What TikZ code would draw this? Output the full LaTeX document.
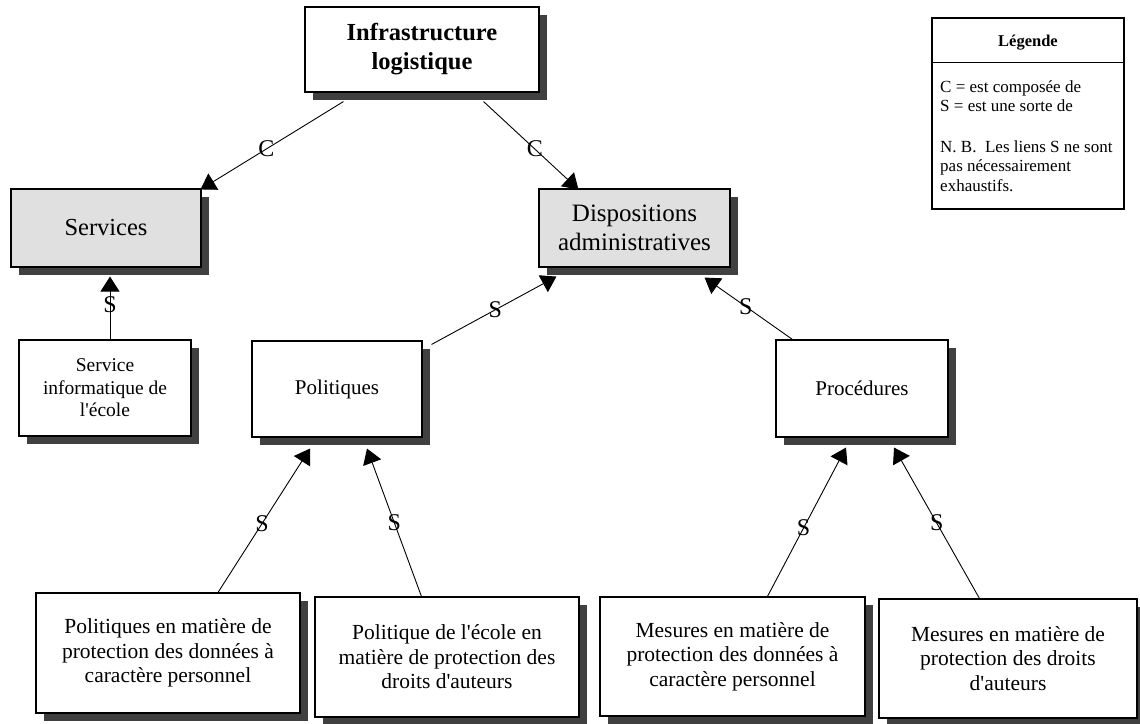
\documentclass[tikz,border=0pt]{standalone}
\usepackage{fontspec}
\setmainfont{Liberation Serif}[Ligatures=TeXOff]
\usetikzlibrary{arrows.meta,shadows,calc}
\definecolor{shadowgray}{HTML}{404040}
\definecolor{boxgray}{HTML}{E0E0E0}

\begin{document}
\begin{tikzpicture}[x=1pt,y=-1pt,
    box/.style={draw,fill=white,line width=1.1pt,align=center,inner sep=0pt,
      drop shadow={shadow xshift=8pt,shadow yshift=-8pt,fill=shadowgray,opacity=1}},
    greybox/.style={box,fill=boxgray},
    lien/.style={line width=0.9pt,-{Triangle[length=15pt,width=19pt]}},
    lbl/.style={inner sep=0pt,font=\fontsize{24}{24}\selectfont}]
  \useasboundingbox (0,0) rectangle (1140,723);

  % niveau 1
  \node[box,minimum width=234pt,minimum height=85pt,font=\bfseries\fontsize{24.5}{29}\selectfont] (infra) at (422,49.5) {Infrastructure\\logistique};

  % niveau 2
  \node[greybox,minimum width=190pt,minimum height=78pt,font=\fontsize{24.5}{28}\selectfont] (serv) at (106,228) {Services};
  \node[greybox,minimum width=191pt,minimum height=78pt,font=\fontsize{25}{28.5}\selectfont] (disp) at (634.5,228) {Dispositions\\administratives};

  % niveau 3
  \node[box,minimum width=172pt,minimum height=96pt,font=\fontsize{19.5}{22.5}\selectfont] (svinfo) at (105,388) {Service\\informatique de\\l'école};
  \node[box,minimum width=170pt,minimum height=96pt,font=\fontsize{21}{24}\selectfont] (pol) at (337,389) {Politiques};
  \node[box,minimum width=172pt,minimum height=97pt,font=\fontsize{21}{24}\selectfont] (proc) at (862,388.5) {Procédures};

  % niveau 4
  \node[box,minimum width=264pt,minimum height=120pt,font=\fontsize{21.5}{24.5}\selectfont] (polperso) at (168,653) {Politiques en matière de\\protection des données à\\caractère personnel};
  \node[box,minimum width=264pt,minimum height=120pt,font=\fontsize{21.5}{24.5}\selectfont] (polauteur) at (447,657) {Politique de l'école en\\matière de protection des\\droits d'auteurs};
  \node[box,minimum width=265pt,minimum height=119pt,font=\fontsize{21.5}{24.5}\selectfont] (mesperso) at (732.5,656.5) {Mesures en matière de\\protection des données à\\caractère personnel};
  \node[box,minimum width=258pt,minimum height=119pt,font=\fontsize{21.5}{24.5}\selectfont] (mesauteur) at (1008,658.5) {Mesures en matière de\\protection des droits\\d'auteurs};

  % legende
  \node[draw,line width=1.1pt,minimum width=192pt,minimum height=191pt] (leg) at (1028,113.5) {};
  \draw[line width=1.1pt] ($(leg.north west)+(0,45)$) -- ($(leg.north east)+(0,45)$);
  \node[font=\bfseries\fontsize{16.5}{18}\selectfont] (legtitle) at (1028,43) {Légende};
  \node[anchor=north west,align=left,inner sep=0pt,font=\fontsize{17}{19.5}\selectfont] (legtext) at (940,80) {C = est composée de\\S = est une sorte de\\[21pt]N. B.\ \ Les liens S ne sont\\pas nécessairement\\exhaustifs.};

  % liens
  \draw[lien] ($(infra.south west)+(39,9)$) -- node[lbl,pos=0.54] (c1) {C} ($(serv.north east)+(-1,1)$);
  \draw[lien] ($(infra.south east)+(-56,9)$) -- node[lbl,pos=0.54] (c2) {C} ($(disp.north west)+(40,1)$);
  \draw[lien] ($(svinfo.north)+(5,0)$) -- node[lbl,pos=0.55] (s1) {S} ($(serv.south)+(4,9)$);
  \draw[lien] ($(pol.north east)+(9,4)$) -- node[lbl,pos=0.51] (s2) {S} ($(disp.south west)+(18,9)$);
  \draw[lien] ($(proc.north west)+(17,0)$) -- node[lbl,pos=0.53] (s3) {S} ($(disp.south east)+(-26,10)$);
  \draw[lien] ($(polperso.north)+(50,0)$) -- node[lbl,pos=0.48] (s4) {S} ($(pol.south)+(-27,11)$);
  \draw[lien] ($(polauteur.north west)+(107,0)$) -- node[lbl,pos=0.5] (s5) {S} ($(pol.south)+(30,11)$);
  \draw[lien] ($(mesperso.north west)+(168,0)$) -- node[lbl,pos=0.46] (s6) {S} ($(proc.south)+(-16,10)$);
  \draw[lien] ($(mesauteur.north west)+(101,0)$) -- node[lbl,pos=0.5] (s7) {S} ($(proc.south)+(32,10)$);
\end{tikzpicture}
\end{document}
